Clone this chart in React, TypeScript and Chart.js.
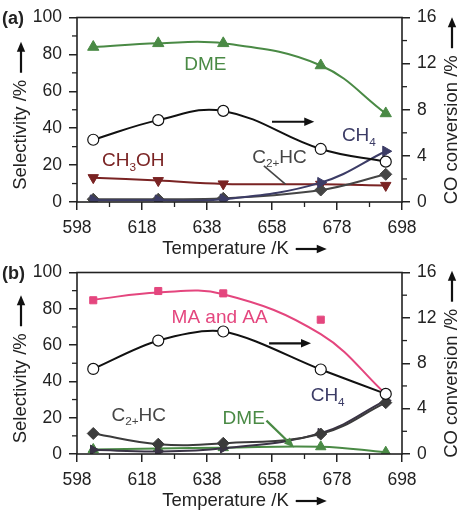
import { useEffect, useRef } from "react";
import { Chart, registerables } from "chart.js";

Chart.register(...registerables);

// ---------- data ----------
const temperatures = [603, 623, 643, 673, 693];

// panel (a)
const aDME = [84, 86, 86, 74, 48];
const aMeOH = [13.2, 11.6, 9.8, 9.6, 9.0];
const aC2HC = [1.5, 1.5, 2, 6.5, 15];
const aCH4 = [1, 1, 1.5, 10.5, 27.5];
const aConversion = [5.4, 7.1, 7.9, 4.6, 3.5];

// panel (b)
const bMAAA = [84.7, 89.8, 88.5, 74, 33];
const bMAAAcurve = [85, 89, 88, 66, 33];
const bC2HC = [11.3, 5.4, 5.9, 11, 28.3];
const bCH4 = [2.3, 1.4, 3.2, 11.5, 29.5];
const bDME = [2.5, 3, 3.5, 4, 1];
const bConversion = [7.5, 10.0, 10.8, 7.45, 5.3];

const xMin = 598;
const xMax = 698;
const selMax = 100;
const convMax = 16;

// ---------- styles ----------
const FAMILY = '"Liberation Sans", Arial, Helvetica, sans-serif';
const TXT = "#222222";
const GREEN = "#4a8a45";
const RED = "#7a2323";
const NAVY = "#3c3c66";
const GRAY = "#454545";
const PINK = "#e4467e";
const BLACK = "#111111";

const font = (size: number, bold = false) => `${bold ? "bold " : ""}${size}px ${FAMILY}`;

type Part = { t: string; sub?: boolean };
type Label = { parts: Part[]; x: number; y: number; color: string };
type Arrow = { x1: number; y1: number; x2: number; y2: number; color: string; head: boolean };

function pts(ys: number[]) {
  return temperatures.map((x, i) => ({ x, y: ys[i] }));
}

function drawArrow(ctx: CanvasRenderingContext2D, x1: number, y1: number, x2: number, y2: number, color: string, width: number, head: number) {
  const a = Math.atan2(y2 - y1, x2 - x1);
  ctx.save();
  ctx.strokeStyle = color;
  ctx.fillStyle = color;
  ctx.lineWidth = width;
  const ex = head > 0 ? x2 - Math.cos(a) * head * 0.7 : x2;
  const ey = head > 0 ? y2 - Math.sin(a) * head * 0.7 : y2;
  ctx.beginPath();
  ctx.moveTo(x1, y1);
  ctx.lineTo(ex, ey);
  ctx.stroke();
  if (head > 0) {
    const w = head * 0.42;
    ctx.beginPath();
    ctx.moveTo(x2, y2);
    ctx.lineTo(x2 - Math.cos(a) * head + Math.sin(a) * w, y2 - Math.sin(a) * head - Math.cos(a) * w);
    ctx.lineTo(x2 - Math.cos(a) * head - Math.sin(a) * w, y2 - Math.sin(a) * head + Math.cos(a) * w);
    ctx.closePath();
    ctx.fill();
  }
  ctx.restore();
}

function drawRich(ctx: CanvasRenderingContext2D, parts: Part[], x: number, y: number, size: number, color: string) {
  let cx = x;
  ctx.save();
  ctx.fillStyle = color;
  ctx.textBaseline = "middle";
  ctx.textAlign = "left";
  for (const p of parts) {
    const s = p.sub ? size * 0.62 : size;
    ctx.font = font(s);
    ctx.fillText(p.t, cx, y + (p.sub ? size * 0.34 : 0));
    cx += ctx.measureText(p.t).width;
  }
  ctx.restore();
}

function drawTitle(ctx: CanvasRenderingContext2D, text: string, cx: number, cy: number, rot: number, size: number) {
  ctx.save();
  ctx.translate(cx, cy);
  ctx.rotate(rot);
  ctx.font = font(size);
  const w = ctx.measureText(text).width;
  const gap = 7;
  const arrowLen = 31;
  const total = w + gap + arrowLen;
  const start = -total / 2;
  ctx.fillStyle = TXT;
  ctx.textBaseline = "middle";
  ctx.textAlign = "left";
  ctx.fillText(text, start, 0);
  drawArrow(ctx, start + w + gap, 0, start + total, 0, BLACK, 2.2, 10);
  ctx.restore();
}

type PanelCfg = {
  tag: string;
  topPad: number;
  xAxisHeight: number;
  height: number;
  labels: Label[];
  arrows: Arrow[];
  datasets: any[];
};

function makeDecor(cfg: PanelCfg) {
  return {
    id: "decor" + cfg.tag,
    afterDraw(chart: any) {
      const ctx: CanvasRenderingContext2D = chart.ctx;
      const area = chart.chartArea;
      const sx = chart.scales.x;
      const sy = chart.scales.y;
      const sy2 = chart.scales.y2;
      ctx.save();
      // frame
      ctx.strokeStyle = TXT;
      ctx.lineWidth = 1.6;
      ctx.strokeRect(area.left, area.top, area.right - area.left, area.bottom - area.top);
      // minor ticks
      ctx.lineWidth = 1.3;
      const minor = (scale: any, dir: string) => {
        const t = scale.ticks;
        for (let i = 0; i < t.length - 1; i++) {
          const v = (t[i].value + t[i + 1].value) / 2;
          const p = scale.getPixelForValue(v);
          ctx.beginPath();
          if (dir === "x") {
            ctx.moveTo(p, area.bottom);
            ctx.lineTo(p, area.bottom + 5);
          } else if (dir === "l") {
            ctx.moveTo(area.left, p);
            ctx.lineTo(area.left - 5, p);
          } else {
            ctx.moveTo(area.right, p);
            ctx.lineTo(area.right + 5, p);
          }
          ctx.stroke();
        }
      };
      minor(sx, "x");
      minor(sy, "l");
      minor(sy2, "r");
      ctx.restore();

      // annotation labels
      for (const l of cfg.labels) {
        drawRich(ctx, l.parts, sx.getPixelForValue(l.x), sy.getPixelForValue(l.y), 19, l.color);
      }
      for (const a of cfg.arrows) {
        drawArrow(
          ctx,
          sx.getPixelForValue(a.x1),
          sy.getPixelForValue(a.y1),
          sx.getPixelForValue(a.x2),
          sy.getPixelForValue(a.y2),
          a.color,
          a.head ? 2.2 : 1.6,
          a.head ? 10 : 0
        );
      }

      // axis titles
      const midY = (area.top + area.bottom) / 2;
      drawTitle(ctx, "Selectivity /%", 21, midY + 6, -Math.PI / 2, 18.5);
      drawTitle(ctx, "CO conversion /%", 452, midY + 1, -Math.PI / 2, 18.5);
      drawTitle(ctx, "Temperature /K", (area.left + area.right) / 2 + 5, area.bottom + 47, 0, 18.5);

      // panel tag
      ctx.save();
      ctx.font = font(18, true);
      ctx.fillStyle = TXT;
      ctx.textBaseline = "middle";
      ctx.textAlign = "left";
      ctx.fillText(`(${cfg.tag})`, 2, area.top + 2);
      ctx.restore();
    },
  };
}

function line(data: number[], color: string, style: string, rotation: number, radius: number, axis = "y", order = 5, tension = 0.4) {
  return {
    data: pts(data),
    yAxisID: axis,
    borderColor: color,
    backgroundColor: color,
    borderWidth: 2,
    pointStyle: style,
    pointRotation: rotation,
    pointRadius: radius,
    pointBackgroundColor: color,
    pointBorderColor: color,
    pointBorderWidth: 1,
    tension,
    order,
  };
}

function conversion(data: number[], tension: number) {
  return {
    data: pts(data),
    yAxisID: "y2",
    borderColor: BLACK,
    borderWidth: 2,
    pointStyle: "circle",
    pointRadius: 5.5,
    pointBackgroundColor: "#ffffff",
    pointBorderColor: BLACK,
    pointBorderWidth: 1.2,
    tension,
    order: 0,
  };
}

const panelA: PanelCfg = {
  tag: "a",
  topPad: 15,
  xAxisHeight: 60,
  height: 262,
  labels: [
    { parts: [{ t: "DME" }], x: 631, y: 74.3, color: GREEN },
    { parts: [{ t: "CH" }, { t: "3", sub: true }, { t: "OH" }], x: 605.7, y: 22.1, color: RED },
    { parts: [{ t: "C" }, { t: "2+", sub: true }, { t: "HC" }], x: 651.9, y: 24.2, color: GRAY },
    { parts: [{ t: "CH" }, { t: "4", sub: true }], x: 679.5, y: 35.8, color: NAVY },
  ],
  arrows: [
    { x1: 658, y1: 43.5, x2: 671, y2: 43.5, color: BLACK, head: true },
    { x1: 655.5, y1: 19.6, x2: 662.2, y2: 9.6, color: GRAY, head: false },
  ],
  datasets: [
    line(aDME, GREEN, "triangle", 0, 6.5, "y", 5),
    line(aMeOH, RED, "triangle", 180, 6, "y", 4),
    line(aC2HC, GRAY, "rectRot", 0, 6, "y", 3),
    line(aCH4, NAVY, "triangle", 90, 6, "y", 2),
    conversion(aConversion, 0.4),
  ],
};

const panelB: PanelCfg = {
  tag: "b",
  topPad: 13,
  xAxisHeight: 65,
  height: 264,
  labels: [
    { parts: [{ t: "MA and AA" }], x: 627.1, y: 74.9, color: PINK },
    { parts: [{ t: "C" }, { t: "2+", sub: true }, { t: "HC" }], x: 608.6, y: 21.1, color: GRAY },
    { parts: [{ t: "DME" }], x: 642.8, y: 19.4, color: GREEN },
    { parts: [{ t: "CH" }, { t: "4", sub: true }], x: 669.9, y: 31.9, color: NAVY },
  ],
  arrows: [
    { x1: 657.1, y1: 61, x2: 670, y2: 61, color: BLACK, head: true },
    { x1: 656.3, y1: 18.4, x2: 664.8, y2: 3.6, color: GREEN, head: true },
  ],
  datasets: [
    { ...line(bMAAAcurve, PINK, "circle", 0, 0, "y", 7), pointRadius: 0 },
    { ...line(bMAAA, PINK, "rect", 0, 5, "y", 6), showLine: false },
    line(bDME, GREEN, "triangle", 0, 6, "y", 5),
    line(bCH4, "#3a3346", "triangle", 90, 5.5, "y", 4),
    line(bC2HC, "#3b3b3b", "rectRot", 0, 6, "y", 3),
    conversion(bConversion, 0.3),
  ],
};

function Panel({ cfg, top }: { cfg: PanelCfg; top: number }) {
  const ref = useRef<HTMLCanvasElement | null>(null);
  useEffect(() => {
    if (!ref.current) return;
    const tickFont = { family: FAMILY, size: 17.5 };
    const grid = { drawOnChartArea: false, drawTicks: true, tickLength: 8, color: TXT, lineWidth: 1.5 };
    const chart = new Chart(ref.current, {
      type: "line",
      data: { datasets: cfg.datasets },
      options: {
        animation: false,
        responsive: false,
        maintainAspectRatio: false,
        devicePixelRatio: window.devicePixelRatio || 1,
        layout: { padding: { top: cfg.topPad, left: 0, right: 0, bottom: 0 } },
        plugins: { legend: { display: false }, tooltip: { enabled: false } },
        scales: {
          x: {
            type: "linear",
            min: xMin,
            max: xMax,
            ticks: { stepSize: 20, autoSkip: false, maxRotation: 0, font: tickFont, color: TXT, padding: 8 },
            grid,
            border: { display: false },
            afterFit: (s: any) => {
              s.height = cfg.xAxisHeight;
            },
          },
          y: {
            type: "linear",
            position: "left",
            min: 0,
            max: selMax,
            ticks: { stepSize: 20, font: tickFont, color: TXT, padding: 7 },
            grid,
            border: { display: false },
            afterFit: (s: any) => {
              s.width = 77;
            },
          },
          y2: {
            type: "linear",
            position: "right",
            min: 0,
            max: convMax,
            ticks: { stepSize: 4, font: tickFont, color: TXT, padding: 7 },
            grid,
            border: { display: false },
            afterFit: (s: any) => {
              s.width = 69;
            },
          },
        },
      } as any,
      plugins: [makeDecor(cfg)],
    });
    return () => chart.destroy();
  }, [cfg]);
  return (
    <canvas
      ref={ref}
      width={471}
      height={cfg.height}
      style={{ position: "absolute", left: 0, top, width: 471, height: cfg.height }}
    />
  );
}

export default function App() {
  return (
    <div style={{ position: "absolute", left: 0, top: 0, width: 471, height: 519, background: "#ffffff" }}>
      <Panel cfg={panelA} top={0} />
      <Panel cfg={panelB} top={255} />
    </div>
  );
}
